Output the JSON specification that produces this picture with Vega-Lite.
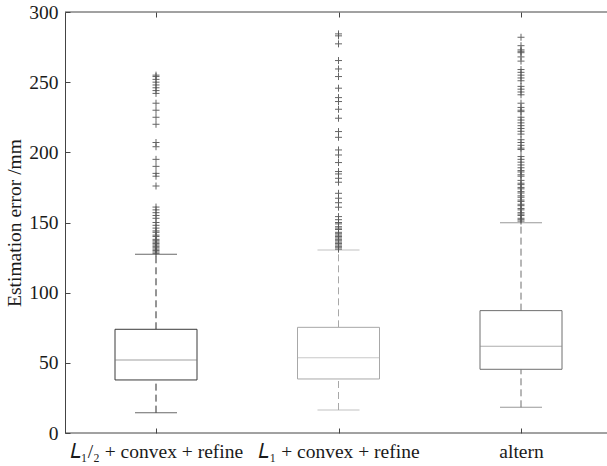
{
  "$schema": "https://vega.github.io/schema/vega-lite/v6.json",
  "width": 542,
  "height": 421,
  "autosize": "none",
  "padding": {"left": 65, "top": 12, "right": 0, "bottom": 33},
  "background": "white",
  "config": {
    "view": {"stroke": null},
    "font": "Liberation Serif",
    "axis": {
      "labelFont": "Liberation Serif",
      "titleFont": "Liberation Serif",
      "labelFontSize": 19.5,
      "titleFontSize": 19.5,
      "titleFontWeight": "normal",
      "labelColor": "#1a1a1a",
      "titleColor": "#1a1a1a",
      "domainColor": "#444",
      "tickColor": "#444",
      "grid": false
    }
  },
  "datasets": {
    "boxes": [
      {"method": "𝐿₁/₂ + convex + refine", "lower": 14.5, "q1": 37.8, "median": 52, "q3": 73.9, "upper": 127.4},
      {"method": "𝐿₁ + convex + refine", "lower": 16.4, "q1": 38.5, "median": 53.7, "q3": 75.3, "upper": 130.4},
      {"method": "altern", "lower": 18.3, "q1": 45.4, "median": 61.8, "q3": 87.2, "upper": 149.9}
    ],
    "outliers": [
      {"method": "𝐿₁/₂ + convex + refine", "value": 255},
      {"method": "𝐿₁/₂ + convex + refine", "value": 254},
      {"method": "𝐿₁/₂ + convex + refine", "value": 252},
      {"method": "𝐿₁/₂ + convex + refine", "value": 250},
      {"method": "𝐿₁/₂ + convex + refine", "value": 248},
      {"method": "𝐿₁/₂ + convex + refine", "value": 246},
      {"method": "𝐿₁/₂ + convex + refine", "value": 244},
      {"method": "𝐿₁/₂ + convex + refine", "value": 242},
      {"method": "𝐿₁/₂ + convex + refine", "value": 235},
      {"method": "𝐿₁/₂ + convex + refine", "value": 230},
      {"method": "𝐿₁/₂ + convex + refine", "value": 225},
      {"method": "𝐿₁/₂ + convex + refine", "value": 220},
      {"method": "𝐿₁/₂ + convex + refine", "value": 207},
      {"method": "𝐿₁/₂ + convex + refine", "value": 204},
      {"method": "𝐿₁/₂ + convex + refine", "value": 195},
      {"method": "𝐿₁/₂ + convex + refine", "value": 190},
      {"method": "𝐿₁/₂ + convex + refine", "value": 185},
      {"method": "𝐿₁/₂ + convex + refine", "value": 183},
      {"method": "𝐿₁/₂ + convex + refine", "value": 176},
      {"method": "𝐿₁/₂ + convex + refine", "value": 161},
      {"method": "𝐿₁/₂ + convex + refine", "value": 159},
      {"method": "𝐿₁/₂ + convex + refine", "value": 157},
      {"method": "𝐿₁/₂ + convex + refine", "value": 155},
      {"method": "𝐿₁/₂ + convex + refine", "value": 153},
      {"method": "𝐿₁/₂ + convex + refine", "value": 150},
      {"method": "𝐿₁/₂ + convex + refine", "value": 148},
      {"method": "𝐿₁/₂ + convex + refine", "value": 146},
      {"method": "𝐿₁/₂ + convex + refine", "value": 144},
      {"method": "𝐿₁/₂ + convex + refine", "value": 143},
      {"method": "𝐿₁/₂ + convex + refine", "value": 141},
      {"method": "𝐿₁/₂ + convex + refine", "value": 140},
      {"method": "𝐿₁/₂ + convex + refine", "value": 138},
      {"method": "𝐿₁/₂ + convex + refine", "value": 137},
      {"method": "𝐿₁/₂ + convex + refine", "value": 136},
      {"method": "𝐿₁/₂ + convex + refine", "value": 135},
      {"method": "𝐿₁/₂ + convex + refine", "value": 134},
      {"method": "𝐿₁/₂ + convex + refine", "value": 133},
      {"method": "𝐿₁/₂ + convex + refine", "value": 132},
      {"method": "𝐿₁/₂ + convex + refine", "value": 131},
      {"method": "𝐿₁/₂ + convex + refine", "value": 130},
      {"method": "𝐿₁/₂ + convex + refine", "value": 129},
      {"method": "𝐿₁/₂ + convex + refine", "value": 128},
      {"method": "𝐿₁ + convex + refine", "value": 284.4},
      {"method": "𝐿₁ + convex + refine", "value": 283},
      {"method": "𝐿₁ + convex + refine", "value": 277.3},
      {"method": "𝐿₁ + convex + refine", "value": 265.4},
      {"method": "𝐿₁ + convex + refine", "value": 259.4},
      {"method": "𝐿₁ + convex + refine", "value": 254},
      {"method": "𝐿₁ + convex + refine", "value": 245.7},
      {"method": "𝐿₁ + convex + refine", "value": 239},
      {"method": "𝐿₁ + convex + refine", "value": 236.2},
      {"method": "𝐿₁ + convex + refine", "value": 230.7},
      {"method": "𝐿₁ + convex + refine", "value": 224.3},
      {"method": "𝐿₁ + convex + refine", "value": 214.8},
      {"method": "𝐿₁ + convex + refine", "value": 210.7},
      {"method": "𝐿₁ + convex + refine", "value": 201.7},
      {"method": "𝐿₁ + convex + refine", "value": 198.1},
      {"method": "𝐿₁ + convex + refine", "value": 192.7},
      {"method": "𝐿₁ + convex + refine", "value": 186.3},
      {"method": "𝐿₁ + convex + refine", "value": 184.6},
      {"method": "𝐿₁ + convex + refine", "value": 181.5},
      {"method": "𝐿₁ + convex + refine", "value": 178.7},
      {"method": "𝐿₁ + convex + refine", "value": 170.8},
      {"method": "𝐿₁ + convex + refine", "value": 167.3},
      {"method": "𝐿₁ + convex + refine", "value": 164.1},
      {"method": "𝐿₁ + convex + refine", "value": 160.9},
      {"method": "𝐿₁ + convex + refine", "value": 154.2},
      {"method": "𝐿₁ + convex + refine", "value": 152},
      {"method": "𝐿₁ + convex + refine", "value": 150},
      {"method": "𝐿₁ + convex + refine", "value": 149},
      {"method": "𝐿₁ + convex + refine", "value": 147},
      {"method": "𝐿₁ + convex + refine", "value": 146},
      {"method": "𝐿₁ + convex + refine", "value": 145},
      {"method": "𝐿₁ + convex + refine", "value": 143},
      {"method": "𝐿₁ + convex + refine", "value": 142},
      {"method": "𝐿₁ + convex + refine", "value": 141},
      {"method": "𝐿₁ + convex + refine", "value": 140},
      {"method": "𝐿₁ + convex + refine", "value": 139},
      {"method": "𝐿₁ + convex + refine", "value": 138},
      {"method": "𝐿₁ + convex + refine", "value": 137},
      {"method": "𝐿₁ + convex + refine", "value": 136},
      {"method": "𝐿₁ + convex + refine", "value": 135},
      {"method": "𝐿₁ + convex + refine", "value": 134},
      {"method": "𝐿₁ + convex + refine", "value": 133},
      {"method": "𝐿₁ + convex + refine", "value": 132},
      {"method": "𝐿₁ + convex + refine", "value": 131},
      {"method": "altern", "value": 282},
      {"method": "altern", "value": 276},
      {"method": "altern", "value": 273},
      {"method": "altern", "value": 272},
      {"method": "altern", "value": 271},
      {"method": "altern", "value": 268},
      {"method": "altern", "value": 265},
      {"method": "altern", "value": 259},
      {"method": "altern", "value": 257},
      {"method": "altern", "value": 255},
      {"method": "altern", "value": 253},
      {"method": "altern", "value": 251},
      {"method": "altern", "value": 247},
      {"method": "altern", "value": 245},
      {"method": "altern", "value": 243},
      {"method": "altern", "value": 241},
      {"method": "altern", "value": 235},
      {"method": "altern", "value": 232},
      {"method": "altern", "value": 230},
      {"method": "altern", "value": 229},
      {"method": "altern", "value": 225},
      {"method": "altern", "value": 223},
      {"method": "altern", "value": 221},
      {"method": "altern", "value": 219},
      {"method": "altern", "value": 217},
      {"method": "altern", "value": 215},
      {"method": "altern", "value": 213},
      {"method": "altern", "value": 209},
      {"method": "altern", "value": 207},
      {"method": "altern", "value": 205},
      {"method": "altern", "value": 203},
      {"method": "altern", "value": 202},
      {"method": "altern", "value": 197},
      {"method": "altern", "value": 195},
      {"method": "altern", "value": 193},
      {"method": "altern", "value": 191},
      {"method": "altern", "value": 189},
      {"method": "altern", "value": 187},
      {"method": "altern", "value": 186},
      {"method": "altern", "value": 184},
      {"method": "altern", "value": 183},
      {"method": "altern", "value": 180},
      {"method": "altern", "value": 178},
      {"method": "altern", "value": 177},
      {"method": "altern", "value": 175},
      {"method": "altern", "value": 174},
      {"method": "altern", "value": 172},
      {"method": "altern", "value": 171},
      {"method": "altern", "value": 169},
      {"method": "altern", "value": 168},
      {"method": "altern", "value": 166},
      {"method": "altern", "value": 165},
      {"method": "altern", "value": 163},
      {"method": "altern", "value": 162},
      {"method": "altern", "value": 160},
      {"method": "altern", "value": 159},
      {"method": "altern", "value": 157},
      {"method": "altern", "value": 156},
      {"method": "altern", "value": 155},
      {"method": "altern", "value": 153},
      {"method": "altern", "value": 152},
      {"method": "altern", "value": 151}
    ]
  },
  "layer": [
    {
      "data": {"name": "boxes"},
      "mark": {"type": "rule", "strokeDash": [7, 4], "strokeWidth": 1},
      "encoding": {
        "x": {
          "field": "method", "type": "nominal", "sort": null,
          "scale": {"type": "point", "range": [91, 456], "padding": 0},
          "axis": {"orient": "bottom", "title": null, "domain": false, "labelAngle": 0, "tickSize": -5, "labelPadding": 14}
        },
        "y": {
          "field": "q3", "type": "quantitative",
          "scale": {"domain": [0, 300], "nice": false, "zero": true},
          "axis": {"title": "Estimation error /mm", "values": [0, 50, 100, 150, 200, 250, 300], "tickSize": -5, "labelPadding": 12, "titlePadding": 4}
        },
        "y2": {"field": "upper"},
        "color": {"field": "method", "type": "nominal", "sort": null, "scale": {"range": ["#2a2a2a", "#a8a8a8", "#6e6e6e"]}, "legend": null}
      }
    },
    {
      "data": {"name": "boxes"},
      "mark": {"type": "rule", "strokeDash": [7, 4], "strokeWidth": 1},
      "encoding": {
        "x": {"field": "method", "type": "nominal", "sort": null, "axis": null},
        "y": {"field": "lower", "type": "quantitative"},
        "y2": {"field": "q1"},
        "color": {"field": "method", "type": "nominal", "sort": null, "legend": null}
      }
    },
    {
      "data": {"name": "boxes"},
      "mark": {"type": "bar", "width": 82, "fill": "white", "strokeWidth": 1},
      "encoding": {
        "x": {"field": "method", "type": "nominal", "sort": null, "axis": null},
        "y": {"field": "q1", "type": "quantitative"},
        "y2": {"field": "q3"},
        "stroke": {"field": "method", "type": "nominal", "sort": null, "scale": {"range": ["#3a3a3a", "#a8a8a8", "#6e6e6e"]}, "legend": null}
      }
    },
    {
      "data": {"name": "boxes"},
      "mark": {"type": "tick", "orient": "horizontal", "size": 82, "thickness": 1},
      "encoding": {
        "x": {"field": "method", "type": "nominal", "sort": null, "axis": null},
        "y": {"field": "median", "type": "quantitative"},
        "fill": {"field": "method", "type": "nominal", "sort": null, "scale": {"range": ["#777777", "#b0b0b0", "#8a8a8a"]}, "legend": null}
      }
    },
    {
      "data": {"name": "boxes"},
      "mark": {"type": "tick", "orient": "horizontal", "size": 42, "thickness": 1},
      "encoding": {
        "x": {"field": "method", "type": "nominal", "sort": null, "axis": null},
        "y": {"field": "lower", "type": "quantitative"},
        "color": {"field": "method", "type": "nominal", "sort": null, "legend": null}
      }
    },
    {
      "data": {"name": "boxes"},
      "mark": {"type": "tick", "orient": "horizontal", "size": 42, "thickness": 1},
      "encoding": {
        "x": {"field": "method", "type": "nominal", "sort": null,
          "axis": {"orient": "top", "title": null, "labels": false, "domain": false, "tickSize": -5}},
        "y": {"field": "upper", "type": "quantitative"},
        "color": {"field": "method", "type": "nominal", "sort": null, "legend": null}
      }
    },
    {
      "data": {"name": "outliers"},
      "mark": {"type": "point", "shape": "M-1,0L1,0M0,-1L0,1", "size": 49, "filled": false, "strokeWidth": 1, "color": "#555555", "opacity": 0.9},
      "encoding": {
        "x": {"field": "method", "type": "nominal", "sort": null, "axis": null},
        "y": {"field": "value", "type": "quantitative"}
      }
    },
    {
      "data": {"values": [{"edge": 0}, {"edge": 300}]},
      "mark": {"type": "rule", "color": "#444444", "strokeWidth": 1},
      "encoding": {
        "y": {"field": "edge", "type": "quantitative"}
      }
    }
  ],
  "resolve": {"axis": {"x": "independent"}}
}
